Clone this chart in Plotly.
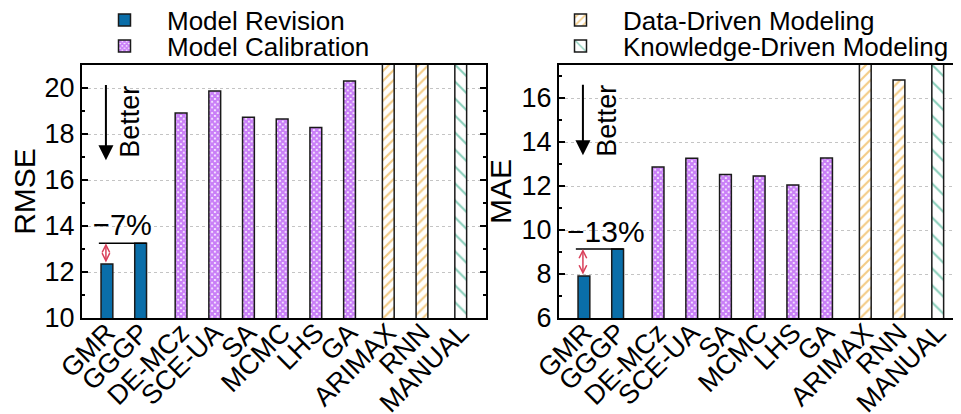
import plotly.graph_objects as go

# ---------------- data ----------------
revision_methods = ["GMR", "GGGP"]
calibration_methods = ["DE-MCz", "SCE-UA", "SA", "MCMC", "LHS", "GA"]
data_methods = ["ARIMAX", "RNN"]
knowledge_methods = ["MANUAL"]

rmse_revision = [12.35, 13.25]
rmse_calibration = [18.91, 19.87, 18.73, 18.65, 18.28, 20.30]
rmse_data = [24.0, 23.0]
rmse_knowledge = [30.0]

mae_revision = [7.91, 9.14]
mae_calibration = [12.86, 13.26, 12.52, 12.45, 12.05, 13.27]
mae_data = [18.5, 16.82]
mae_knowledge = [22.0]

# ---------------- layout helpers (positions, not data) ----------------
tick_labels = revision_methods + calibration_methods + data_methods + knowledge_methods
x_positions = [0, 1, 2.2, 3.2, 4.2, 5.2, 6.2, 7.2, 8.35, 9.35, 10.5]
pos = dict(zip(tick_labels, x_positions))
BAR_W = 0.35
W, H = 961, 414
OFF = 8  # page body margin
FONT = "Liberation Sans, Arial, Helvetica, sans-serif"

styles = {
    "Model Revision": dict(color="#0a6ea9", pattern=None),
    "Model Calibration": dict(color="white",
                              pattern=dict(shape="x", fgcolor="#9400f0", bgcolor="white",
                                           size=4, solidity=0.8, fillmode="overlay")),
    "Data-Driven Modeling": dict(color="white",
                                 pattern=dict(shape="/", fgcolor="#e8980c", bgcolor="white",
                                              size=7, solidity=0.3, fillmode="overlay")),
    "Knowledge-Driven Modeling": dict(color="white",
                                      pattern=dict(shape="\\", fgcolor="#129c74", bgcolor="white",
                                                   size=12, solidity=0.17, fillmode="overlay")),
}

groups = [
    ("Model Revision", revision_methods, rmse_revision, mae_revision, "legend"),
    ("Model Calibration", calibration_methods, rmse_calibration, mae_calibration, "legend2"),
    ("Data-Driven Modeling", data_methods, rmse_data, mae_data, "legend3"),
    ("Knowledge-Driven Modeling", knowledge_methods, rmse_knowledge, mae_knowledge, "legend4"),
]

fig = go.Figure()
for name, meths, rm, ma, leg in groups:
    st = styles[name]
    marker = dict(color=st["color"], line=dict(color="#1a1a1a", width=1.5))
    if st["pattern"]:
        marker["pattern"] = st["pattern"]
    fig.add_trace(go.Bar(x=[pos[m] for m in meths], y=rm, width=BAR_W, name=name,
                         marker=marker, xaxis="x", yaxis="y", legend=leg, showlegend=True))
    fig.add_trace(go.Bar(x=[pos[m] for m in meths], y=ma, width=BAR_W, name=name,
                         marker=marker, xaxis="x2", yaxis="y2", showlegend=False))

def sx(p):
    return (p - OFF) / W

def sy(p):
    return 1 - (p - OFF) / H

xrange = [-0.74, 11.25]

xcommon = dict(tickmode="array", tickvals=x_positions, ticktext=tick_labels, tickangle=-45,
               ticks="", showgrid=False, zeroline=False, showline=True, linecolor="black",
               linewidth=2, automargin=False, ticklabelstandoff=-14,
               tickfont=dict(size=27, color="black", family=FONT))
ycommon = dict(ticks="inside", ticklen=6, tickwidth=1.5, tickcolor="black",
               showgrid=True, gridcolor="#c4c4c4", griddash="dot", gridwidth=1,
               zeroline=False, showline=True, linecolor="black", linewidth=2, automargin=False,
               tickfont=dict(size=27, color="black", family=FONT),
               minor=dict(dtick=1, ticks="inside", ticklen=3, tickcolor="black", showgrid=False))

fig.update_layout(
    width=W, height=H, margin=dict(l=0, r=0, t=0, b=0, autoexpand=False),
    paper_bgcolor="white", plot_bgcolor="white",
    font=dict(family=FONT, color="black"),
    barmode="overlay", showlegend=True,
    xaxis=dict(domain=[sx(82), sx(486)], range=xrange, anchor="y", mirror=True, **xcommon),
    yaxis=dict(domain=[sy(318), sy(65)], range=[10, 21], dtick=2, tick0=10, anchor="x",
               mirror="ticks",
               title=dict(text="RMSE", font=dict(size=30, color="black", family=FONT), standoff=9),
               **ycommon),
    xaxis2=dict(domain=[sx(559), sx(963)], range=xrange, anchor="y2", mirror=True, **xcommon),
    yaxis2=dict(domain=[sy(318), sy(65)], range=[6, 17.5], dtick=2, tick0=6, anchor="x2",
                mirror=False,
                title=dict(text="MAE", font=dict(size=30, color="black", family=FONT), standoff=1),
                **ycommon),
    yaxis3=dict(overlaying="y2", anchor="x2", side="right", range=[6, 17.5], dtick=2, tick0=6,
                ticks="inside", ticklen=6, tickwidth=1.5, tickcolor="black", showgrid=False,
                showline=False, zeroline=False, showticklabels=False, automargin=False,
                minor=dict(dtick=1, ticks="inside", ticklen=3, tickcolor="black")),
)

leg_common = dict(xanchor="left", yanchor="middle", font=dict(size=26, color="black", family=FONT),
                  itemwidth=75, bgcolor="rgba(0,0,0,0)", borderwidth=0, itemclick=False)
fig.update_layout(
    legend=dict(x=sx(82), y=sy(20), **leg_common),
    legend2=dict(x=sx(82), y=sy(46), **leg_common),
    legend3=dict(x=sx(538), y=sy(20), **leg_common),
    legend4=dict(x=sx(538), y=sy(46), **leg_common),
)

# ---------------- annotations ----------------
def add_panel_notes(xr, yr, rev_vals, better_tail, better_tip, better_text_y, pct_x, pct_y, pct_size):
    gm, gg = rev_vals
    pct = round((gg - gm) / gg * 100)
    fig.add_shape(type="line", xref=xr, yref=yr, x0=pos["GMR"] - 0.24, x1=pos["GGGP"] + BAR_W / 2,
                  y0=gg, y1=gg, line=dict(color="black", width=1.5))
    fig.add_annotation(xref=xr, yref=yr, axref=xr, ayref=yr, x=pos["GMR"] - 0.03, y=gg,
                       ax=pos["GMR"] - 0.03, ay=gm, text="", showarrow=True, arrowhead=5,
                       startarrowhead=5, arrowside="end+start", arrowsize=1.0, startarrowsize=1.0,
                       arrowwidth=1.5, arrowcolor="#d9405a")
    fig.add_annotation(xref=xr, yref=yr, x=pct_x, y=pct_y, text=f"\u2212{pct}%", showarrow=False,
                       font=dict(size=pct_size, color="black", family=FONT))
    fig.add_annotation(xref=xr, yref=yr, axref=xr, ayref=yr, x=-0.03, y=better_tip,
                       ax=-0.03, ay=better_tail, text="", showarrow=True, arrowhead=2,
                       arrowsize=1.5, arrowwidth=2, arrowcolor="black")
    fig.add_annotation(xref=xr, yref=yr, x=0.7, y=better_text_y, text="Better", textangle=-90,
                       showarrow=False, font=dict(size=27, color="black", family=FONT))

add_panel_notes("x", "y", rmse_revision, 20.2, 16.86, 18.51, 0.47, 14.03, 29)
add_panel_notes("x2", "y2", mae_revision, 16.67, 13.4, 14.94, 0.66, 9.91, 30)

fig.write_html("out.html")
